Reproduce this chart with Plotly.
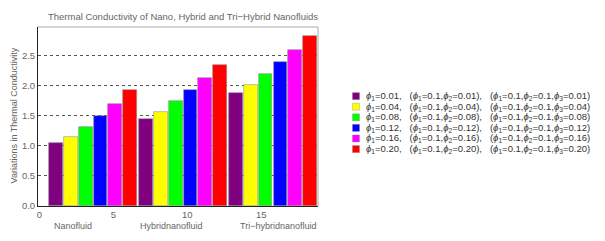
import plotly.graph_objects as go

groups = ["Nanofluid", "Hybridnanofluid", "Tri\u2212hybridnanofluid"]
concentrations = ["0.01", "0.04", "0.08", "0.12", "0.16", "0.20"]
colors = ["#800080", "#FFFF00", "#00FF00", "#0000FF", "#FF00FF", "#FF0000"]
# values[color index] = [nano, hybrid, tri-hybrid]
values = [
    [1.04, 1.45, 1.88],
    [1.15, 1.57, 2.01],
    [1.32, 1.75, 2.20],
    [1.50, 1.93, 2.40],
    [1.70, 2.13, 2.60],
    [1.92, 2.34, 2.83],
]
title = "Thermal Conductivity of Nano, Hybrid and Tri\u2212Hybrid Nanofluids"
ytitle = "Variations in Thermal Conductivity"

# layout of bar positions (Mathematica-like BarChart spacing)
start, step, gstep = 1.13, 1.0, 6.08

PHI = "<i>\u03d5</i>"
def label(c):
    return (f"{PHI}<sub>1</sub>={c},   ({PHI}<sub>1</sub>=0.1,{PHI}<sub>2</sub>={c}),   "
            f"({PHI}<sub>1</sub>=0.1,{PHI}<sub>2</sub>=0.1,{PHI}<sub>3</sub>={c})")

fig = go.Figure()
for k, (c, col, vals) in enumerate(zip(concentrations, colors, values)):
    xs = [start + k * step + g * gstep for g in range(len(groups))]
    fig.add_trace(go.Bar(x=xs, y=vals, width=0.93, marker=dict(color=col, line=dict(color="rgba(140,140,140,0.8)", width=0.7)),
                         name=label(c), showlegend=False))

# page offset (default body margin of the html page)
OFF = 8
W, H = 605 - OFF, 241 - OFF
L, R, T, B = 38 - OFF, 318 - OFF, 26.5 - OFF, 205.7 - OFF
PW, PH = R - L, B - T
def px(x):
    return (x - OFF - L) / PW
def py(y):
    return (B - (y - OFF)) / PH

gray = "#666666"
font = "Liberation Sans, Arial, sans-serif"
annotations = []
shapes = []
# legend
ly0, ldy = 95.7, 10.6
for k, (c, col) in enumerate(zip(concentrations, colors)):
    yc = ly0 + k * ldy
    shapes.append(dict(type="rect", xref="paper", yref="paper",
                       x0=px(352.5), x1=px(359.5), y0=py(yc + 3.5), y1=py(yc - 3.5),
                       fillcolor=col, line=dict(width=0.5, color="rgba(120,120,120,0.6)")))
    annotations.append(dict(text=label(c), xref="paper", yref="paper",
                            x=px(364), y=py(yc), xanchor="left", yanchor="middle",
                            showarrow=False, font=dict(size=9.5, color="#333333", family=font)))
# group labels
for gname, gx in zip(groups, [73.3, 171.7, 278.3]):
    annotations.append(dict(text=gname, xref="paper", yref="paper", x=px(gx), y=py(226),
                            xanchor="center", yanchor="middle", showarrow=False,
                            font=dict(size=9, color=gray, family=font)))
# title
annotations.append(dict(text=title, xref="paper", yref="paper", x=px(182.7), y=py(16),
                        xanchor="center", yanchor="middle", showarrow=False,
                        font=dict(size=9.5, color=gray, family=font)))
# y title
annotations.append(dict(text=ytitle, xref="paper", yref="paper", x=px(14), y=py(115),
                        xanchor="center", yanchor="middle", showarrow=False, textangle=-90,
                        font=dict(size=9, color=gray, family=font)))
# light frame top / right
shapes.append(dict(type="line", xref="paper", yref="paper", x0=0, x1=1, y0=1, y1=1, line=dict(color="#aaaaaa", width=1)))
shapes.append(dict(type="line", xref="paper", yref="paper", x0=1, x1=1, y0=0, y1=1, line=dict(color="#aaaaaa", width=1)))

fig.update_layout(
    width=W, height=H,
    margin=dict(l=L, r=W - R, t=T, b=H - B, autoexpand=False),
    plot_bgcolor="white", paper_bgcolor="white",
    font=dict(family=font, size=9, color=gray),
    bargap=0, showlegend=False,
    annotations=annotations, shapes=shapes,
    xaxis=dict(range=[-0.09, 18.83], tickvals=[0, 5, 10, 15], showgrid=False, zeroline=False, automargin=False,
               showline=True, linecolor="#222222", linewidth=1, ticks="", tickfont=dict(size=9.5, color=gray)),
    yaxis=dict(range=[0, 2.975], tickvals=[0, 0.5, 1.0, 1.5, 2.0, 2.5], ticktext=["0.0", "0.5", "1.0", "1.5", "2.0", "2.5"],
               showgrid=True, gridcolor="#555555", griddash="dot", gridwidth=1, zeroline=False, automargin=False,
               showline=True, linecolor="#222222", linewidth=1, ticks="", tickfont=dict(size=9.5, color=gray)),
)
fig.write_html("out.html")
